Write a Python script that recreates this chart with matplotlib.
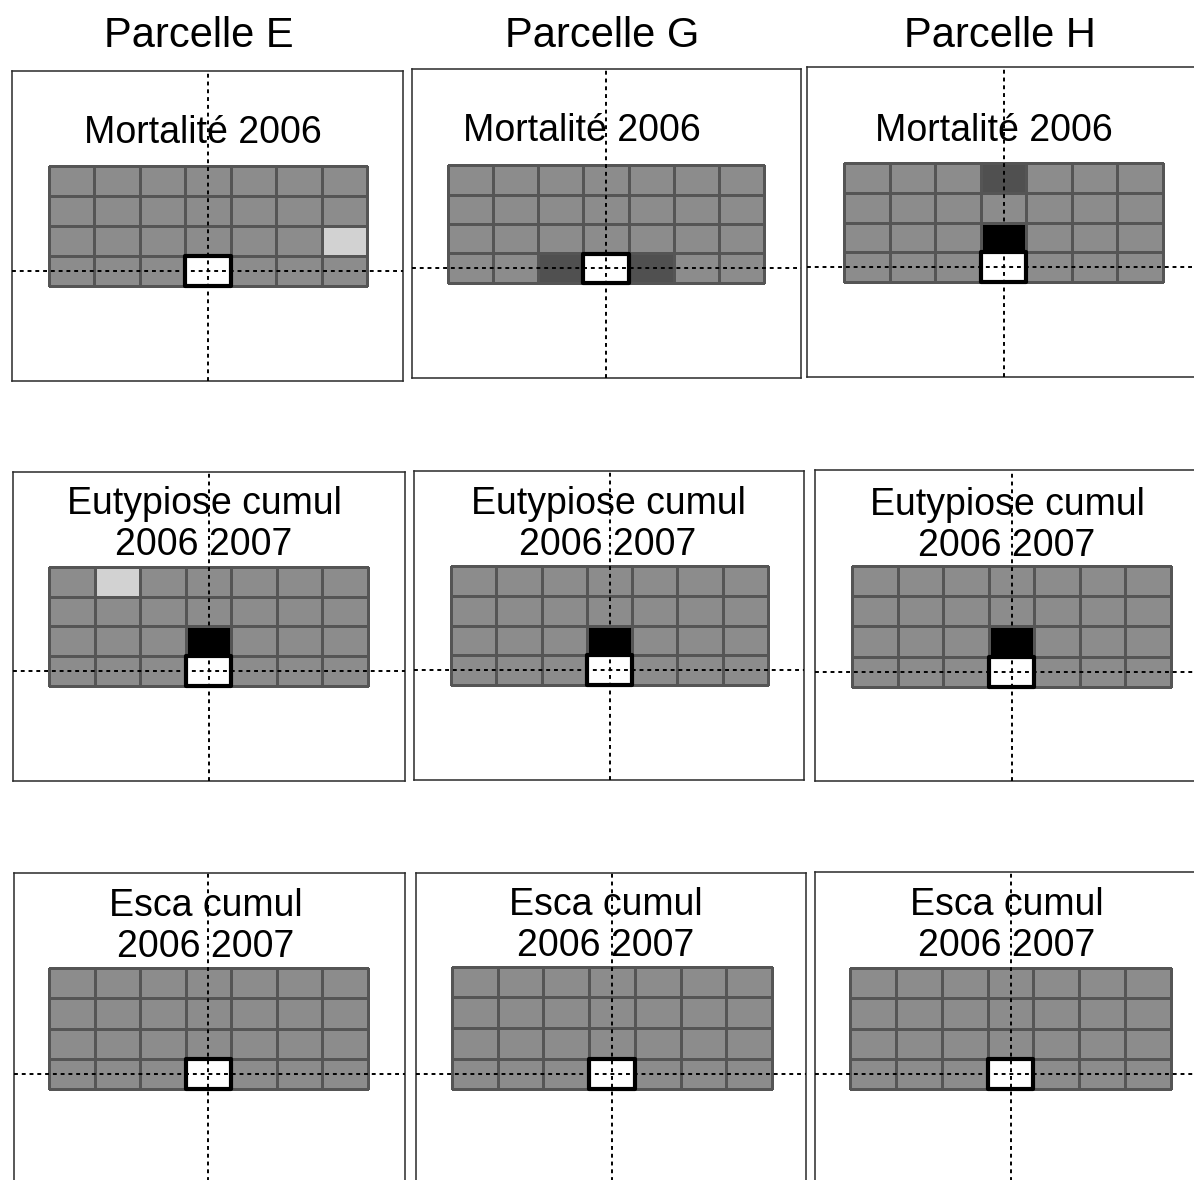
import numpy as np
import matplotlib
matplotlib.use("Agg")
import matplotlib.pyplot as plt
from matplotlib.colors import ListedColormap, BoundaryNorm
from matplotlib.patches import Rectangle

plt.rcParams['font.family'] = ['Liberation Sans', 'DejaVu Sans']

# ── Data ──────────────────────────────────────────────────────────────
parcelles = ["Parcelle E", "Parcelle G", "Parcelle H"]
variables = ["Mortalité 2006", "Eutypiose cumul\n2006 2007", "Esca cumul\n2006 2007"]

# cell codes: 0 = light, 1 = average (gray), 2 = dark, 3 = black, 4 = reference cell
level_colors = ["#d2d2d2", "#8c8c8c", "#505050", "#000000", "#ffffff"]
REF = 4

mort_E = [[1, 1, 1, 1, 1, 1, 1],
          [1, 1, 1, 1, 1, 1, 1],
          [1, 1, 1, 1, 1, 1, 0],
          [1, 1, 1, 4, 1, 1, 1]]
mort_G = [[1, 1, 1, 1, 1, 1, 1],
          [1, 1, 1, 1, 1, 1, 1],
          [1, 1, 1, 1, 1, 1, 1],
          [1, 1, 2, 4, 2, 1, 1]]
mort_H = [[1, 1, 1, 2, 1, 1, 1],
          [1, 1, 1, 1, 1, 1, 1],
          [1, 1, 1, 3, 1, 1, 1],
          [1, 1, 1, 4, 1, 1, 1]]
euty_E = [[1, 0, 1, 1, 1, 1, 1],
          [1, 1, 1, 1, 1, 1, 1],
          [1, 1, 1, 3, 1, 1, 1],
          [1, 1, 1, 4, 1, 1, 1]]
euty_G = [[1, 1, 1, 1, 1, 1, 1],
          [1, 1, 1, 1, 1, 1, 1],
          [1, 1, 1, 3, 1, 1, 1],
          [1, 1, 1, 4, 1, 1, 1]]
euty_H = [[1, 1, 1, 1, 1, 1, 1],
          [1, 1, 1, 1, 1, 1, 1],
          [1, 1, 1, 3, 1, 1, 1],
          [1, 1, 1, 4, 1, 1, 1]]
esca_E = [[1, 1, 1, 1, 1, 1, 1],
          [1, 1, 1, 1, 1, 1, 1],
          [1, 1, 1, 1, 1, 1, 1],
          [1, 1, 1, 4, 1, 1, 1]]
esca_G = [[1, 1, 1, 1, 1, 1, 1],
          [1, 1, 1, 1, 1, 1, 1],
          [1, 1, 1, 1, 1, 1, 1],
          [1, 1, 1, 4, 1, 1, 1]]
esca_H = [[1, 1, 1, 1, 1, 1, 1],
          [1, 1, 1, 1, 1, 1, 1],
          [1, 1, 1, 1, 1, 1, 1],
          [1, 1, 1, 4, 1, 1, 1]]

grids = [[mort_E, mort_G, mort_H],
         [euty_E, euty_G, euty_H],
         [esca_E, esca_G, esca_H]]

# ── Layout (pixels) ───────────────────────────────────────────────────
W, H = 1194, 1180
# panel frame: left, top, right, bottom
frames = [[(12, 71, 403, 381), (412, 69, 801, 378), (807, 67, 1197, 377)],
          [(13, 472, 405, 781), (414, 471, 804, 780), (815, 470, 1205, 781)],
          [(14, 873, 405, 1183), (416, 873, 806, 1183), (815, 872, 1205, 1182)]]
# cell block: left, top, right, bottom
blocks = [[(49, 166, 367, 286), (448, 165, 764, 283), (844, 163, 1163, 282)],
          [(49, 567, 368, 686), (451, 566, 768, 685), (852, 566, 1171, 687)],
          [(49, 968, 368, 1089), (452, 967, 772, 1089), (850, 968, 1171, 1089)]]
# panel title: center x, center y of first line
title_pos = [[(203, 133), (582, 131), (994, 131)],
             [(204, 504), (608, 504), (1007, 505)],
             [(206, 906), (606, 905), (1007, 905)]]
line_gap = 41
col_title_x = [199, 602, 1000]
col_title_y = 36

fig = plt.figure(figsize=(W / 100, H / 100), dpi=100)

cmap = ListedColormap(level_colors)
norm = BoundaryNorm(np.arange(-0.5, len(level_colors) + 0.5), cmap.N)

for j, name in enumerate(parcelles):
    fig.text(col_title_x[j] / W, 1 - col_title_y / H, name,
             ha="center", va="center", fontsize=30)

for i in range(3):
    for j in range(3):
        data = np.array(grids[i][j])
        nr, nc = data.shape
        fl, ft, fr, fb = frames[i][j]
        gl, gt, gr, gb = blocks[i][j]
        ax = fig.add_axes([fl / W, 1 - fb / H, (fr - fl) / W, (fb - ft) / H])
        cw = (gr - gl) / nc
        ch = (gb - gt) / nr
        ax.set_xlim((fl - gl) / cw, nc + (fr - gr) / cw)
        ax.set_ylim(nr + (fb - gb) / ch, (ft - gt) / ch)
        ax.pcolormesh(np.arange(nc + 1), np.arange(nr + 1), data,
                      cmap=cmap, norm=norm, edgecolors="#555555", linewidth=0.75)

        rr, rc = np.argwhere(data == REF)[0]
        ax.add_patch(Rectangle((rc, rr), 1, 1, fill=False, edgecolor="black",
                               linewidth=3.0, joinstyle="round", zorder=4))
        ax.axvline(rc + 0.5, color="black", linewidth=1.4,
                   linestyle=(0, (2.0, 2.0)), zorder=5)
        ax.axhline(rr + 0.5, color="black", linewidth=1.4,
                   linestyle=(0, (2.0, 2.0)), zorder=5)

        ax.set_xticks([])
        ax.set_yticks([])
        for sp in ax.spines.values():
            sp.set_color("#2a2a2a")
            sp.set_linewidth(1.1)

        tx, ty = title_pos[i][j]
        for k, line in enumerate(variables[i].split("\n")):
            fig.text(tx / W, 1 - (ty + k * line_gap) / H, line,
                     ha="center", va="center", fontsize=27, zorder=10)

fig.savefig("out.png", dpi=100)
